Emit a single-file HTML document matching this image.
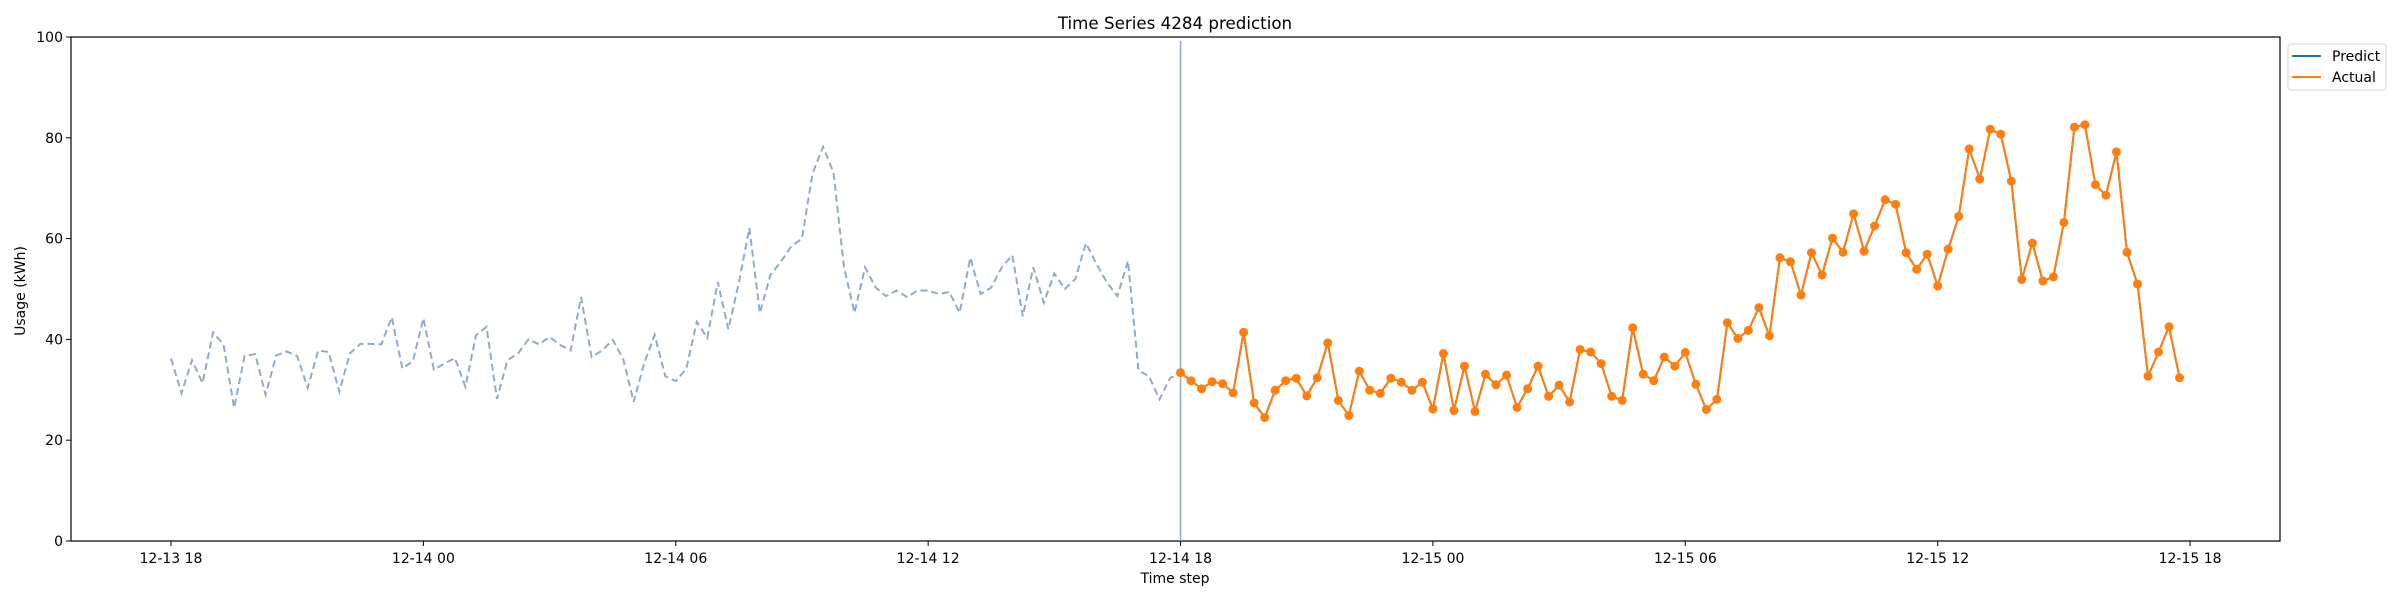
<!DOCTYPE html>
<html>
<head>
<meta charset="utf-8">
<style>
html,body{margin:0;padding:0;background:#fff;}
svg{display:block;font-family:"DejaVu Sans","Liberation Sans",sans-serif;}
</style>
</head>
<body>
<svg id="chart" width="2400" height="600" viewBox="0 0 2400 600" xmlns="http://www.w3.org/2000/svg">
  <rect x="0" y="0" width="2400" height="600" fill="#fff"/>
  <text x="1175" y="29" text-anchor="middle" font-size="16.7" fill="#000">Time Series 4284 prediction</text>
  <g id="plot"></g>
  <text x="1175" y="583" text-anchor="middle" font-size="14" fill="#000">Time step</text>
  <text x="0" y="0" transform="translate(25,291) rotate(-90)" text-anchor="middle" font-size="14" fill="#000">Usage (kWh)</text>
  <g>
    <rect x="2288" y="44" width="98" height="46" rx="3" fill="#fff" stroke="#d6d6d6" stroke-width="1"/>
    <line x1="2292" y1="56" x2="2321" y2="56" stroke="#1f77b4" stroke-width="2"/>
    <text x="2332" y="61" font-size="14" fill="#000">Predict</text>
    <line x1="2292" y1="77" x2="2321" y2="77" stroke="#ff7f0e" stroke-width="2"/>
    <text x="2332" y="82" font-size="14" fill="#000">Actual</text>
  </g>
</svg>
<script>
const historyValues = [36.2,29.3,35.9,31.3,41.4,38.9,26.4,36.7,37.1,29.0,36.8,37.6,36.7,30.4,37.8,37.5,29.6,37.2,39.1,39.1,39.0,44.4,34.2,35.7,44.2,34.0,35.2,36.3,30.6,40.8,42.5,28.2,35.9,37.2,40.0,39.0,40.5,38.9,37.8,48.4,36.5,37.8,39.9,36.1,27.6,35.3,40.9,32.7,31.7,34.2,43.5,40.3,51.4,42.0,51.3,62.1,45.2,52.8,55.4,58.5,60.0,72.9,78.2,73.1,54.3,45.3,54.3,50.3,48.6,49.7,48.4,49.7,49.7,49.0,49.4,45.3,56.2,49.0,50.3,54.3,56.7,44.6,54.3,47.3,53.1,50.0,52.0,59.1,55.0,51.3,48.6,55.6,33.8,32.7,28.1,32.3,33.4];
const actualValues = [33.4,31.8,30.2,31.6,31.2,29.4,41.4,27.4,24.5,29.9,31.8,32.3,28.8,32.4,39.3,27.9,24.9,33.7,29.9,29.3,32.3,31.5,29.9,31.5,26.2,37.2,25.9,34.7,25.7,33.1,31.0,32.9,26.5,30.2,34.7,28.7,30.9,27.6,38.0,37.5,35.2,28.7,27.9,42.3,33.1,31.8,36.5,34.7,37.4,31.1,26.1,28.1,43.3,40.2,41.8,46.3,40.7,56.2,55.4,48.8,57.2,52.8,60.1,57.3,64.9,57.5,62.5,67.7,66.8,57.2,53.9,56.9,50.6,57.9,64.4,77.8,71.8,81.7,80.7,71.4,51.9,59.1,51.6,52.4,63.2,82.1,82.6,70.7,68.6,77.2,57.3,51.0,32.7,37.5,42.5,32.4];
const predictValues = actualValues.slice();
const xTickLabels = ["12-13 18","12-14 00","12-14 06","12-14 12","12-14 18","12-15 00","12-15 06","12-15 12","12-15 18"];
const xTickSteps = [0,24,48,72,96,120,144,168,192];
const yTickValues = [0,20,40,60,80,100];
const splitStep = 96;

const NS = "http://www.w3.org/2000/svg";
const L = 71, R = 2280, T = 37, B = 541;
const X0 = 171, STEP = 10.516;
function xScale(step){ return X0 + step * STEP; }
function yScale(v){ return B - (v / 100) * (B - T); }
function mk(tag, attrs, parent){
  const e = document.createElementNS(NS, tag);
  for (const k in attrs) e.setAttribute(k, attrs[k]);
  parent.appendChild(e);
  return e;
}
const plot = document.getElementById('plot');

// spines
const frame = mk('rect', {x:L, y:T, width:R-L, height:B-T, fill:'none', stroke:'#000', 'stroke-width':1.2}, plot);



// y ticks
yTickValues.forEach(v => {
  const y = yScale(v);
  const t = mk('line', {x1:L-5, y1:y, x2:L, y2:y, stroke:'#000', 'stroke-width':1}, plot);
  
  
  const lab = mk('text', {x:L-8, y:y+5, 'text-anchor':'end', 'font-size':14, fill:'#000'}, plot);
  lab.textContent = String(v);
  
  
});

// x ticks
xTickSteps.forEach((s, i) => {
  const x = xScale(s);
  const t = mk('line', {x1:x, y1:B, x2:x, y2:B+5, stroke:'#000', 'stroke-width':1}, plot);
  
  
  const lab = mk('text', {x:x, y:B+22, 'text-anchor':'middle', 'font-size':14, fill:'#000'}, plot);
  lab.textContent = xTickLabels[i];
  
  
});

// history dashed line
const histPts = historyValues.map((v, i) => xScale(i).toFixed(1) + ',' + yScale(v).toFixed(1)).join(' ');
const hist = mk('polyline', {points:histPts, fill:'none', stroke:'#92aac7', 'stroke-width':2, 'stroke-dasharray':'7,4'}, plot);



// split vertical line
const vx = xScale(splitStep);
const vl = mk('line', {x1:vx, y1:41, x2:vx, y2:B, stroke:'#92aac7', 'stroke-width':1.5}, plot);



// predict line
const predPts = predictValues.map((v, i) => xScale(splitStep + i).toFixed(1) + ',' + yScale(v).toFixed(1)).join(' ');
const pred = mk('polyline', {points:predPts, fill:'none', stroke:'#1f77b4', 'stroke-width':2}, plot);



// actual line + markers
const actPts = actualValues.map((v, i) => xScale(splitStep + i).toFixed(1) + ',' + yScale(v).toFixed(1)).join(' ');
const act = mk('polyline', {points:actPts, fill:'none', stroke:'#ff7f0e', 'stroke-width':2}, plot);


actualValues.forEach((v, i) => {
  const c = mk('circle', {cx:xScale(splitStep + i), cy:yScale(v), r:4.5, fill:'#ff7f0e'}, plot);
  
  
});
</script>
</body>
</html>
